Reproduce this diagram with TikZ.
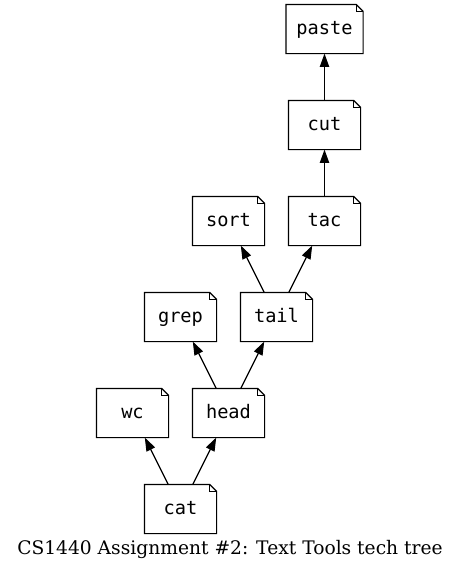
\documentclass[tikz,border=0pt]{standalone}
\usepackage{fontspec}
\setmainfont{DejaVu Serif}
\setmonofont{DejaVu Sans Mono}
\usetikzlibrary{arrows.meta}

\tikzset{
  tool/.style={minimum width=53.25pt, minimum height=36pt, inner sep=0pt,
    text height=7.5pt, text depth=0pt,
    font=\fontsize{14}{16}\selectfont\ttfamily},
  dep/.style={-{Triangle[length=10pt, width=7pt]}, line width=0.9pt},
}

\begin{document}
\begin{tikzpicture}[x=0.75pt, y=-0.75pt, line width=0.9pt]

      \useasboundingbox (0,0) rectangle (460,569);

      \def\fold{7}

      \node[tool, minimum width=57pt] (paste) at (324.5, 29) {paste};
      \node[tool] (cut)  at (324.5, 125) {cut};
      \node[tool] (sort) at (228.5, 221) {sort};
      \node[tool] (tac)  at (324.5, 221) {tac};
      \node[tool] (grep) at (180.5, 317) {grep};
      \node[tool] (tail) at (276.5, 317) {tail};
      \node[tool] (wc)   at (132.5, 413) {wc};
      \node[tool] (head) at (228.5, 413) {head};
      \node[tool] (cat)  at (180.5, 509) {cat};

      % note outlines with folded corner
      \foreach \n in {paste,cut,sort,tac,grep,tail,wc,head,cat}{
        \draw (\n.north west) -- ([shift={(-\fold,0)}]\n.north east)
          -- ([shift={(0,\fold)}]\n.north east) -- (\n.south east)
          -- (\n.south west) -- cycle;
        \draw ([shift={(-\fold,0)}]\n.north east) -- ([shift={(-\fold,\fold)}]\n.north east)
          -- ([shift={(0,\fold)}]\n.north east);
      }

      \foreach \a/\b in {cat/wc,cat/head,head/grep,head/tail,tail/sort,tail/tac,tac/cut,cut/paste}{
        \draw[dep] (\a) -- (\b);
      }

      \node[font=\fontsize{14}{16}\selectfont] (caption) at (230, 549) {CS1440 Assignment \#2: Text Tools tech tree};

    \end{tikzpicture}
\end{document}
